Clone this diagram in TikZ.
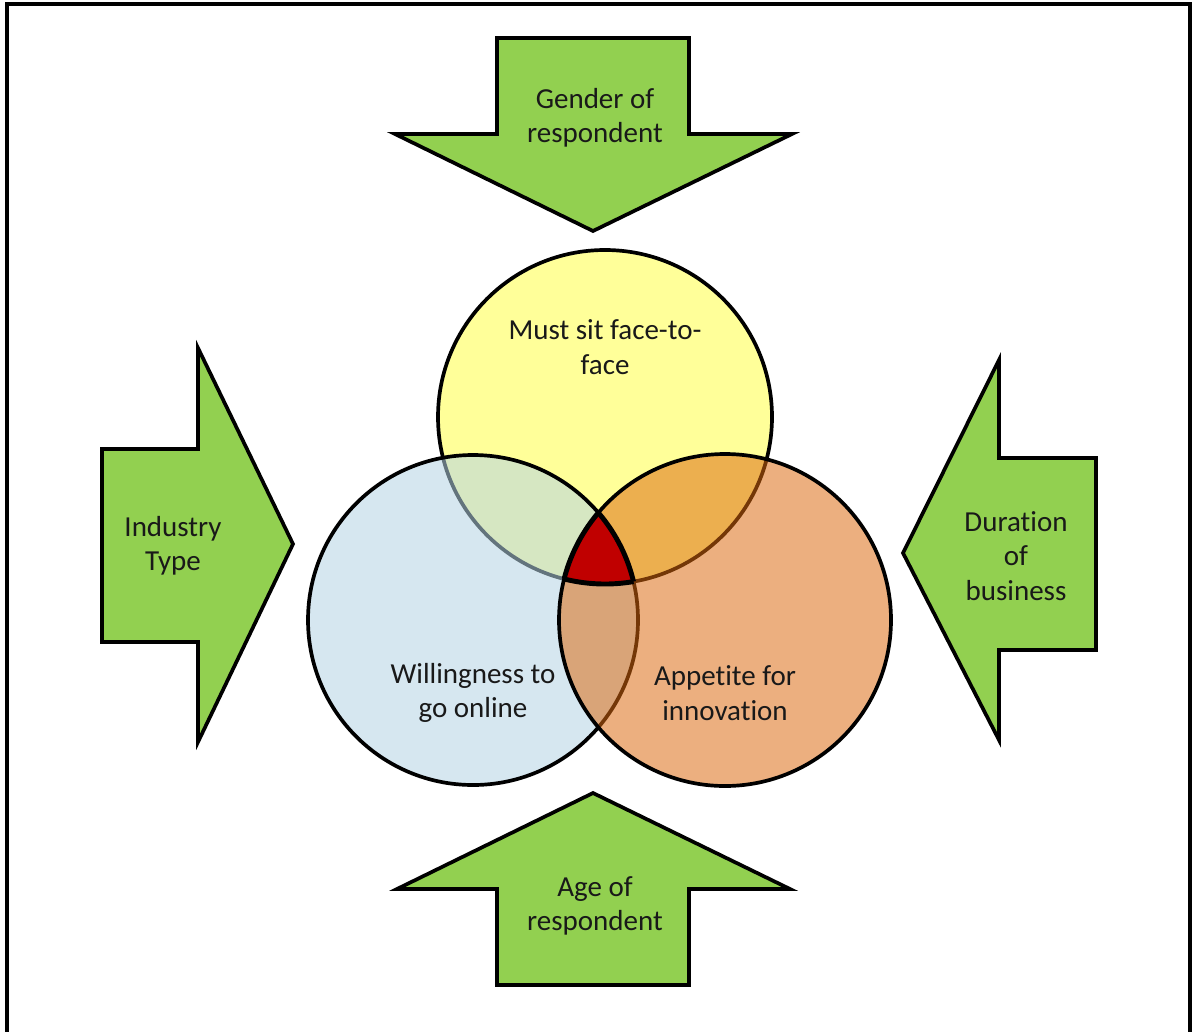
\documentclass[tikz,border=0pt]{standalone}
\usepackage{fontspec}
\setmainfont[Ligatures=NoCommon]{Carlito}
\begin{document}
\begin{tikzpicture}[x=0.02cm,y=-0.02cm,
  greenarrow/.style={fill=arrowgreen,draw=black,line width=2.1pt,line join=miter},
  lbl/.style={align=center,font=\fontsize{16.5}{19.5}\selectfont,text=black!90,inner sep=0pt},
  circ/.style={line width=2.1pt,draw=black}]
\definecolor{arrowgreen}{RGB}{146,208,80}
\definecolor{cyellow}{RGB}{255,255,153}
\definecolor{cblue}{RGB}{182,213,228}
\definecolor{corange}{RGB}{220,105,15}
\definecolor{cred}{RGB}{192,0,0}
\useasboundingbox (0,0) rectangle (1192,1031);
\fill[white] (0,0) rectangle (1192,1031);
\begin{scope}
  \clip (0,0) rectangle (1192,1031);
  \draw[line width=0.09cm] (7,4) rectangle (1190,1060);
\end{scope}
% arrows
\draw[greenarrow] (497,38) -- (689,38) -- (689,134) -- (792,134) -- (593,231) -- (395,134) -- (497,134) -- cycle;
\draw[greenarrow] (593,793) -- (790,889) -- (689,889) -- (689,985) -- (497,985) -- (497,889) -- (397,889) -- cycle;
\draw[greenarrow] (102,449) -- (198,449) -- (198,348) -- (293,544) -- (198,742) -- (198,642) -- (102,642) -- cycle;
\draw[greenarrow] (903,553) -- (999,360) -- (999,458) -- (1096,458) -- (1096,650) -- (999,650) -- (999,740) -- cycle;
\node[lbl] (gender) at (595,118) {Gender of\\respondent};
\node[lbl] (age) at (595,906) {Age of\\respondent};
\node[lbl] (industry) at (173,546) {Industry\\Type};
\node[lbl] (duration) at (1016,556) {Duration\\of\\business};
% circles
\coordinate (cy) at (605,417);
\coordinate (cb) at (473,620);
\coordinate (co) at (725,620);
\fill[cyellow] (cy) circle[radius=167];
\draw[circ] (cy) circle[radius=167];
\fill[cblue,fill opacity=0.55] (cb) circle[radius=165];
\draw[circ] (cb) circle[radius=165];
\fill[corange,fill opacity=0.53] (co) circle[radius=166];
\draw[circ] (co) circle[radius=166];
% central region
\begin{scope}
  \clip (cy) circle[radius=167];
  \clip (cb) circle[radius=165];
  \fill[cred] (co) circle[radius=166];
\end{scope}
\begin{scope}[line width=2.8pt]
  \begin{scope}
    \clip (cy) circle[radius=167];
    \clip (cb) circle[radius=165];
    \draw (co) circle[radius=166];
  \end{scope}
  \begin{scope}
    \clip (cy) circle[radius=167];
    \clip (co) circle[radius=166];
    \draw (cb) circle[radius=165];
  \end{scope}
  \begin{scope}
    \clip (cb) circle[radius=165];
    \clip (co) circle[radius=166];
    \draw (cy) circle[radius=167];
  \end{scope}
\end{scope}
\node[lbl] (face) at (605,347) {Must sit face-to-\\face};
\node[lbl] (online) at (473,693) {Willingness to\\go online};
\node[lbl] (innov) at (725,693) {Appetite for\\innovation};
\end{tikzpicture}
\end{document}
